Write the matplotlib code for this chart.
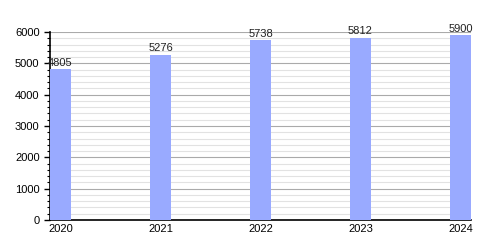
import matplotlib
matplotlib.use("Agg")
import matplotlib.pyplot as plt
from matplotlib.ticker import MultipleLocator

years = ["2020", "2021", "2022", "2023", "2024"]
values = [4805, 5276, 5738, 5812, 5900]

plt.rcParams['font.family'] = ['Liberation Sans', 'DejaVu Sans']
fig = plt.figure(figsize=(5, 2.5), dpi=100)
ax = fig.add_axes([0.1, 0.12, 0.842, 0.752])

x = list(range(len(years)))
w = 0.21
ax.bar(x, values, width=w, color="#99aaff", zorder=3)
for xi, v in zip(x, values):
    ax.text(xi, v + 50, str(v), ha="center", va="bottom", fontsize=8, color="#222222", zorder=4)

ax.set_xlim(-w / 2, len(years) - 1 + w / 2)
ax.set_ylim(0, 6000)
ax.set_xticks(x)
ax.set_xticklabels(years)
ax.yaxis.set_major_locator(MultipleLocator(1000))
ax.yaxis.set_minor_locator(MultipleLocator(200))
ax.grid(axis="y", which="major", color="#aaaaaa", linewidth=0.8, zorder=1)
ax.grid(axis="y", which="minor", color="#e2e2e2", linewidth=0.8, zorder=1)
for s in ["top", "right"]:
    ax.spines[s].set_visible(False)
ax.spines["left"].set_linewidth(1.2)
ax.spines["bottom"].set_linewidth(1.2)
ax.tick_params(axis="both", labelsize=8, length=4, width=1, colors="black")
ax.tick_params(axis="y", which="minor", length=2.5, width=0.8)
ax.tick_params(axis="x", length=0, pad=3)

fig.savefig("out.png", dpi=100)
